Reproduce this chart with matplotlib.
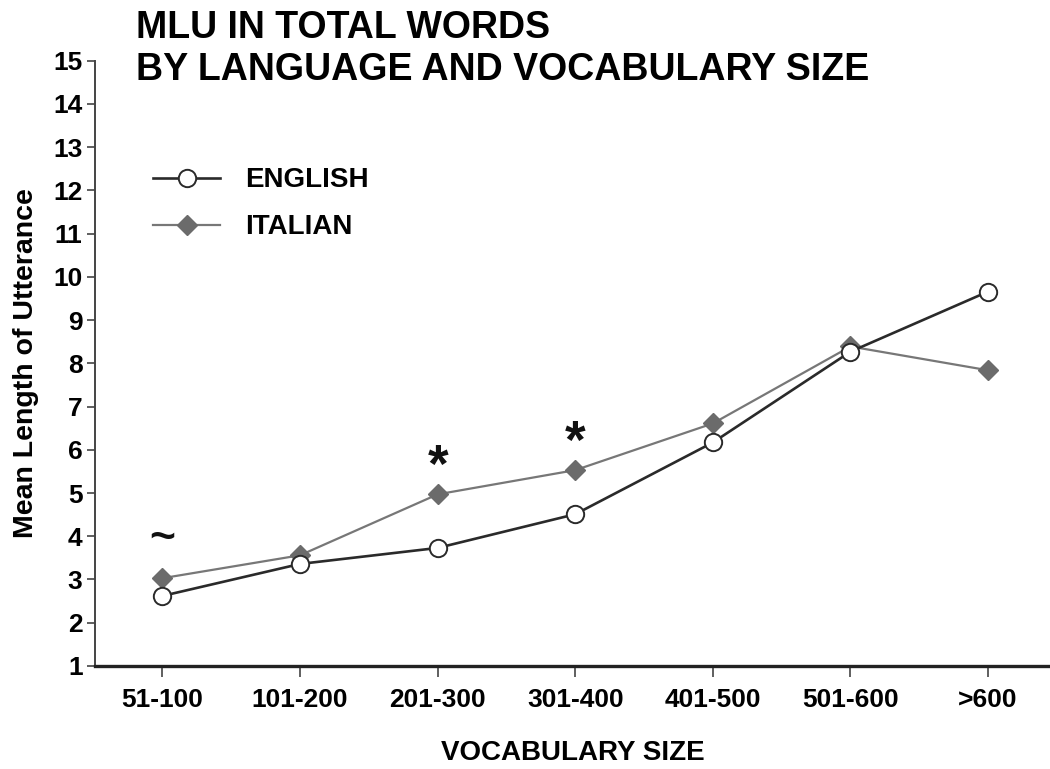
import matplotlib.pyplot as plt

# data
sizes = ["51-100", "101-200", "201-300", "301-400", "401-500", "501-600", ">600"]
english = [2.62, 3.36, 3.73, 4.51, 6.17, 8.27, 9.66]
italian = [3.03, 3.56, 4.97, 5.53, 6.61, 8.39, 7.84]

# significance marks placed above the higher point
marks = {0: "~", 2: "*", 3: "*"}

plt.rcParams["font.family"] = ["Liberation Sans", "DejaVu Sans"]
plt.rcParams["font.weight"] = "bold"

fig = plt.figure(figsize=(10.5, 7.69), dpi=100)
ax = fig.add_axes([0.0905, 0.134, 0.9095, 0.787])

x = list(range(len(sizes)))
ax.plot(x, italian, color="#777777", lw=1.6, marker="D", ms=10,
        markerfacecolor="#6b6b6b", markeredgecolor="#6b6b6b", label="ITALIAN", zorder=2)
ax.plot(x, english, color="#2a2a2a", lw=1.9, marker="o", ms=12.5,
        markerfacecolor="white", markeredgecolor="#2a2a2a", markeredgewidth=1.4,
        label="ENGLISH", zorder=3)

for i, m in marks.items():
    if m == "*":
        ax.annotate(m, (x[i], max(english[i], italian[i])), xytext=(0, 1),
                    textcoords="offset points", ha="center", va="bottom",
                    fontsize=38, fontweight="bold", color="#111111")
    else:
        ax.annotate(m, (x[i], max(english[i], italian[i])), xytext=(0, 14),
                    textcoords="offset points", ha="center", va="bottom",
                    fontsize=32, fontweight="bold", color="#111111")

ax.set_xlim(-0.49, 6.45)
ax.set_ylim(1, 15)
ax.set_yticks(range(1, 16))
ax.set_xticks(x)
ax.set_xticklabels(sizes, fontsize=19, fontweight="bold")
ax.tick_params(axis="y", labelsize=19, length=6, width=1.2, color="#444444", pad=3)
ax.tick_params(axis="x", length=8, width=1.2, color="#444444", pad=8)

for s in ["top", "right"]:
    ax.spines[s].set_visible(False)
ax.spines["left"].set_linewidth(1.4)
ax.spines["left"].set_color("#444444")
ax.spines["bottom"].set_linewidth(2.4)
ax.spines["bottom"].set_color("#222222")

ax.set_ylabel("Mean Length of Utterance", fontsize=20.5, fontweight="bold", labelpad=10)
ax.set_xlabel("VOCABULARY SIZE", fontsize=20, fontweight="bold", labelpad=20)

handles, labels = ax.get_legend_handles_labels()
ax.legend(handles[::-1], labels[::-1], loc="upper left", bbox_to_anchor=(0.035, 0.865),
          frameon=False, handlelength=2.4, labelspacing=0.75,
          handletextpad=0.9, prop={"weight": "bold", "size": 20})

fig.text(0.13, 0.987, "MLU IN TOTAL WORDS\nBY LANGUAGE AND VOCABULARY SIZE",
         fontsize=27, fontweight="bold", va="top", ha="left", linespacing=1.2)

fig.savefig("out.png", dpi=100)
